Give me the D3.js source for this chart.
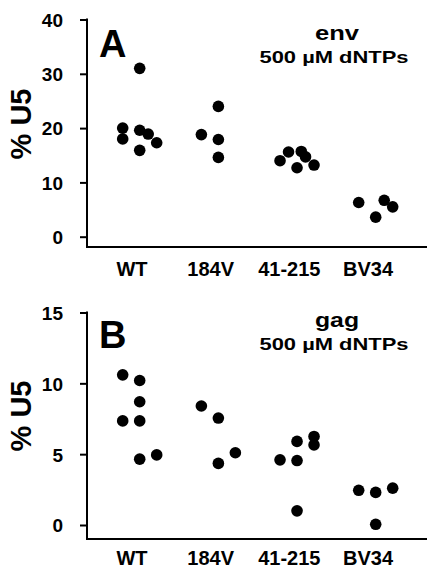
<!DOCTYPE html>
<html>
<head>
<meta charset="utf-8">
<script src="https://cdnjs.cloudflare.com/ajax/libs/d3/7.8.5/d3.min.js"></script>
<style>
  body { margin: 0; background: #fff; }
  text { font-family: "Liberation Sans", Arial, sans-serif; font-weight: bold; fill: #000; }
</style>
</head>
<body>
<div id="chart"></div>
<script>
var width = 427,
    height = 569;

var categories = ["WT", "184V", "41-215", "BV34"];

// [value, jitter slot] per point
var envWT = [[20.0, -1], [18.0, -1], [31.0, 1], [19.6, 1], [15.9, 1], [18.9, 2], [17.3, 3]],
    env184V = [[18.8, -1], [24.0, 1], [17.9, 1], [14.6, 1]],
    env41215 = [[14.0, -1], [15.6, 0], [12.7, 1], [15.7, 1.5], [14.7, 2], [13.2, 3]],
    envBV34 = [[6.3, -1], [3.6, 1], [6.7, 2], [5.5, 3]];

var gagWT = [[10.6, -1], [7.35, -1], [10.2, 1], [8.7, 1], [7.35, 1], [4.65, 1], [4.95, 3]],
    gag184V = [[8.4, -1], [7.55, 1], [4.35, 1], [5.1, 3]],
    gag41215 = [[4.6, -1], [5.9, 1], [4.55, 1], [1.0, 1], [6.25, 3], [5.65, 3]],
    gagBV34 = [[2.45, -1], [2.3, 1], [0.05, 1], [2.6, 3]];

var envTicks = [0, 10, 20, 30, 40],
    gagTicks = [0, 5, 10, 15];

var svg = d3.select("#chart").append("svg")
    .attr("width", width)
    .attr("height", height);

var x = d3.scalePoint().domain(categories).range([132, 368]);
var jitter = d3.scaleLinear().domain([-1, 3]).range([-9.3, 24.7]);

function panel(opts) {
  var y = d3.scaleLinear().domain(opts.domain).range(opts.range);
  var g = svg.append("g");
  var axisX = 87;

  var ax = g.append("g")
      .attr("transform", "translate(" + axisX + ",0)")
      .call(d3.axisLeft(y).tickValues(opts.ticks).tickSize(7).tickPadding(17));
  ax.select(".domain").remove();
  ax.selectAll(".tick line").attr("stroke", "#000").attr("stroke-width", 2);
  ax.selectAll(".tick text")
      .attr("font-size", 19)
      .attr("font-family", null)
      .attr("fill", "#000")
      .attr("dy", "0.36em");

  // axis lines
  g.append("line")
      .attr("x1", axisX).attr("x2", axisX)
      .attr("y1", y(opts.domain[1]) - 1).attr("y2", opts.baseY)
      .attr("stroke", "#000").attr("stroke-width", 2);
  g.append("line")
      .attr("x1", axisX - 1).attr("x2", width)
      .attr("y1", opts.baseY).attr("y2", opts.baseY)
      .attr("stroke", "#000").attr("stroke-width", 2);

  // category labels
  g.selectAll(".cat")
      .data(categories)
    .enter().append("text")
      .attr("class", "cat")
      .attr("x", function(d) { return x(d); })
      .attr("y", opts.labelY)
      .attr("text-anchor", "middle")
      .attr("font-size", 20)
      .text(function(d) { return d; });

  // y title
  g.append("text")
      .attr("transform", "translate(31," + opts.titleY + ")rotate(-90)")
      .attr("text-anchor", "middle")
      .attr("font-size", 29)
      .text("% U5");

  // panel letter
  g.append("text")
      .attr("x", 99)
      .attr("y", opts.letterY)
      .attr("font-size", 38)
      .text(opts.letter);

  g.append("text")
      .attr("x", 337)
      .attr("y", opts.noteY)
      .attr("text-anchor", "middle")
      .attr("font-size", 20)
      .attr("textLength", 44)
      .attr("lengthAdjust", "spacingAndGlyphs")
      .text(opts.gene);
  g.append("text")
      .attr("x", 334)
      .attr("y", opts.noteY + 23)
      .attr("text-anchor", "middle")
      .attr("font-size", 16.5)
      .attr("textLength", 149)
      .attr("lengthAdjust", "spacingAndGlyphs")
      .text("500 \u00b5M dNTPs");

  var pts = [];
  opts.series.forEach(function(s, i) {
    s.forEach(function(p) { pts.push({cat: categories[i], v: p[0], slot: p[1]}); });
  });

  g.selectAll(".dot")
      .data(pts)
    .enter().append("circle")
      .attr("class", "dot")
      .attr("cx", function(d) { return x(d.cat) + jitter(d.slot); })
      .attr("cy", function(d) { return y(d.v); })
      .attr("r", 5.8)
      .attr("fill", "#000");
}

panel({
  domain: [0, 40], range: [236.7, 19.5], ticks: envTicks, baseY: 247, labelY: 276,
  titleY: 124, letter: "A", letterY: 57, gene: "env", noteY: 40,
  series: [envWT, env184V, env41215, envBV34]
});

panel({
  domain: [0, 15], range: [525, 312.5], ticks: gagTicks, baseY: 539, labelY: 565,
  titleY: 416, letter: "B", letterY: 348, gene: "gag", noteY: 327,
  series: [gagWT, gag184V, gag41215, gagBV34]
});
</script>
</body>
</html>
